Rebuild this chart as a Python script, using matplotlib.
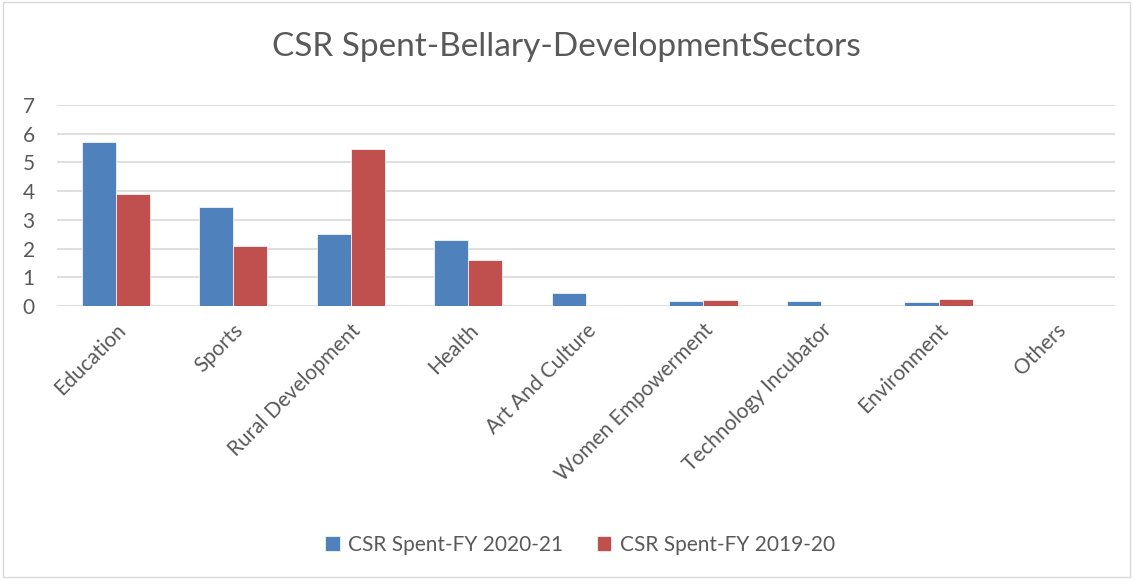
import numpy as np
import matplotlib.pyplot as plt
from matplotlib.patches import Rectangle

plt.rcParams['font.family'] = ['Lato', 'DejaVu Sans']

categories = ['Education', 'Sports', 'Rural Development', 'Health', 'Art And Culture',
              'Women Empowerment', 'Technology Incubator', 'Environment', 'Others']
fy2021 = [5.70, 3.44, 2.51, 2.30, 0.44, 0.17, 0.16, 0.14, 0.0]
fy1920 = [3.89, 2.10, 5.47, 1.59, 0.03, 0.21, 0.0, 0.24, 0.0]
series_names = ['CSR Spent-FY 2020-21', 'CSR Spent-FY 2019-20']

blue = '#4f81bd'
red = '#c0504d'
txt = '#595959'

fig = plt.figure(figsize=(11.33, 5.79), dpi=100)
ax = fig.add_axes([0.0503, 0.4715, 0.9337, 0.3472])

x = np.arange(len(categories))
w = 0.29
ax.bar(x - w / 2, fy2021, w, color=blue, edgecolor='white', linewidth=0.5, label=series_names[0], zorder=3)
ax.bar(x + w / 2, fy1920, w, color=red, edgecolor='white', linewidth=0.5, label=series_names[1], zorder=3)

ax.set_xlim(-0.5, len(categories) - 0.5)
ax.set_ylim(0, 7)
ax.set_yticks(range(0, 8))
ax.yaxis.grid(True, color='#d9d9d9', linewidth=1.2, zorder=0)
for s in ax.spines.values():
    s.set_visible(False)
ax.tick_params(axis='both', length=0, colors=txt, labelsize=15)
ax.tick_params(axis='y', pad=16)
ax.set_xticks(x)
ax.set_xticklabels(categories, rotation=45, ha='right', rotation_mode='anchor', color=txt)
ax.tick_params(axis='x', pad=10)

fig.suptitle('CSR Spent-Bellary-DevelopmentSectors', y=0.945, fontsize=24, color=txt)

fig.legend(loc='center', bbox_to_anchor=(0.512, 0.059), ncol=2, frameon=False,
           fontsize=15, labelcolor=txt, handlelength=0.7, handleheight=0.7,
           columnspacing=1.6, handletextpad=0.4)

fig.patches.append(Rectangle((0.003, 0.003), 0.994, 0.994, transform=fig.transFigure,
                             fill=False, edgecolor='#d9d9d9', linewidth=1))

fig.savefig('out.png', dpi=100)
